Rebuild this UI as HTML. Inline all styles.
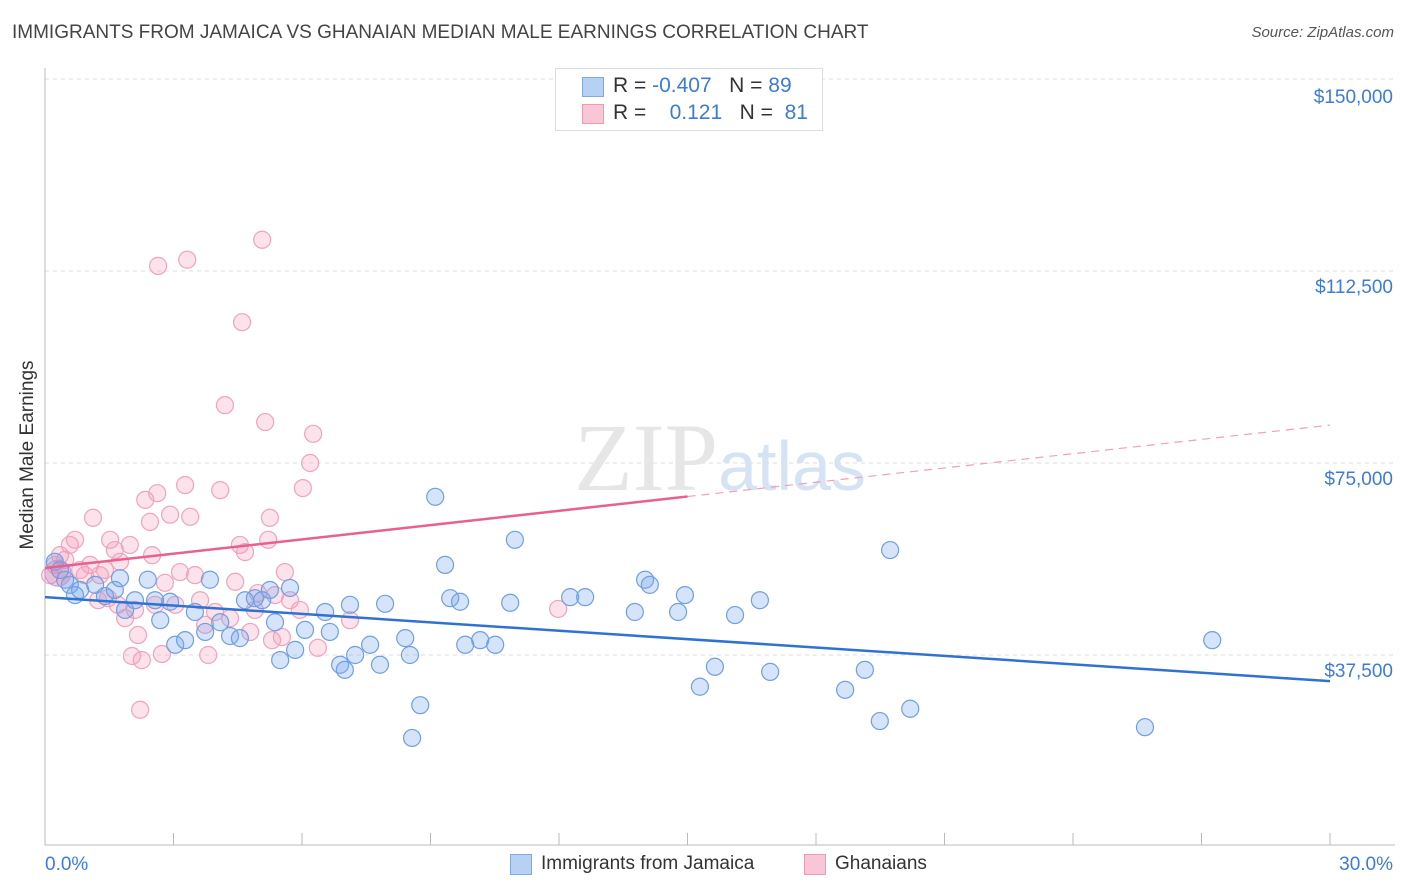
<!DOCTYPE html>
<html><head><meta charset="utf-8">
<style>
body{margin:0;background:#fff;font-family:"Liberation Sans",sans-serif;}
#wrap{position:relative;width:1406px;height:892px;overflow:hidden;}
.t{position:absolute;white-space:nowrap;}
</style></head>
<body>
<div id="wrap">
<div class="t" style="left:12px;top:22px;font-size:19px;color:#444;">IMMIGRANTS FROM JAMAICA VS GHANAIAN MEDIAN MALE EARNINGS CORRELATION CHART</div>
<div class="t" style="right:12px;top:24px;font-size:15px;color:#555;font-style:italic;">Source: ZipAtlas.com</div>
<div class="t" style="left:28px;top:455px;font-size:19px;color:#333;transform:translate(-50%,-50%) rotate(-90deg);">Median Male Earnings</div>
<svg id="chart" width="1406" height="892" style="position:absolute;left:0;top:0;"></svg>
<div style="position:absolute;left:555px;top:68px;width:266px;height:61px;border:1px solid #ddd;background:#fff;font-size:21px;">
  <div style="position:absolute;left:26px;top:8px;width:20px;height:18px;background:#b7d1f4;border:1px solid #7ea8e6;"></div>
  <div class="t" style="left:57px;top:5px;color:#333;">R = <span style="color:#3d7bd8">-0.407</span>&nbsp;&nbsp;&nbsp;N = <span style="color:#3d7bd8">89</span></div>
  <div style="position:absolute;left:26px;top:35px;width:20px;height:18px;background:#f9c6d6;border:1px solid #ee9ab5;"></div>
  <div class="t" style="left:57px;top:32px;color:#333;">R = &nbsp;&nbsp;&nbsp;<span style="color:#3d7bd8">0.121</span>&nbsp;&nbsp;&nbsp;N = &nbsp;<span style="color:#3d7bd8">81</span></div>
</div>
<div style="position:absolute;left:510px;top:854px;width:20px;height:19px;background:#b7d1f4;border:1px solid #7ea8e6;"></div>
<div class="t" style="left:541px;top:853px;font-size:19px;color:#333;">Immigrants from Jamaica</div>
<div style="position:absolute;left:804px;top:854px;width:20px;height:19px;background:#f9c6d6;border:1px solid #ee9ab5;"></div>
<div class="t" style="left:835px;top:853px;font-size:19px;color:#333;">Ghanaians</div>
</div>
<script>
const yTicks=[37500,75000,112500,150000];
const yTickLabels=["$37,500","$75,000","$112,500","$150,000"];
const xTickLabels=["0.0%","30.0%"];
const jamX=[0.23,0.35,0.47,0.58,0.70,0.82,1.17,1.40,1.63,1.75,1.87,2.10,2.40,2.57,2.69,2.92,3.04,3.27,3.50,3.74,3.85,4.09,4.32,4.55,4.67,4.90,5.07,5.25,5.37,5.49,5.72,5.84,6.07,6.54,6.65,6.89,7.00,7.12,7.24,7.59,7.82,7.94,8.41,8.52,8.76,8.57,9.11,9.34,9.46,9.69,9.81,10.16,10.51,10.86,10.97,12.26,12.61,13.77,14.01,14.12,14.78,14.94,15.29,15.64,16.11,16.69,16.93,18.68,19.14,19.49,19.73,20.20,25.68,27.25];
const jamY=[55.7,54.1,52.2,51.2,49.2,50.2,51.2,49.0,50.2,52.5,46.3,48.2,52.2,48.2,44.3,47.9,39.5,40.4,45.9,42.0,52.2,43.9,41.2,40.8,48.2,48.6,48.2,50.2,43.9,36.5,50.6,38.5,42.4,45.9,42.0,35.6,34.6,47.3,37.5,39.5,35.6,47.5,40.8,37.5,27.7,21.3,68.4,55.1,48.6,47.9,39.5,40.4,39.5,47.7,60.0,48.8,48.8,45.9,52.2,51.2,45.9,49.2,31.3,35.2,45.3,48.2,34.2,30.7,34.6,24.6,58.0,27.0,23.4,40.4];
const ghaX=[0.12,0.23,0.35,0.47,0.58,0.70,0.82,0.93,1.05,1.12,1.24,1.28,1.40,1.47,1.52,1.63,1.70,1.75,1.87,1.98,2.03,2.10,2.17,2.22,2.26,2.34,2.45,2.50,2.57,2.62,2.64,2.73,2.80,2.92,3.04,3.15,3.27,3.32,3.39,3.50,3.62,3.74,3.81,3.97,4.09,4.20,4.32,4.44,4.55,4.60,4.67,4.79,4.90,4.97,5.07,5.14,5.21,5.25,5.30,5.37,5.53,5.60,5.72,5.95,6.02,6.19,6.26,6.37,7.12,11.98];
const ghaY=[53.1,55.1,57.0,56.1,59.0,60.0,54.1,53.1,55.1,64.3,48.2,53.1,54.1,48.6,60.0,58.0,47.3,55.7,44.7,59.0,37.3,46.3,41.4,26.8,36.5,67.8,63.5,57.0,47.3,69.1,113.5,37.7,51.6,64.9,47.3,53.7,70.7,114.7,64.5,53.1,48.2,43.4,37.5,45.9,69.7,86.3,44.7,51.8,59.0,102.5,57.6,42.0,46.3,49.6,118.6,83.0,60.0,64.3,40.4,49.2,41.0,53.7,48.2,46.3,70.1,75.0,80.7,38.9,44.3,46.5];
const jamTrend=[48.8,32.4];
const ghaTrend=[54.5,82.4];

const NS="http://www.w3.org/2000/svg";
const svg=document.getElementById('chart');
const xs=v=>45+v/30*1285;
const ys=v=>655-(v-37500)/37500*192;
function mk(tag,attrs){const e=document.createElementNS(NS,tag);for(const k in attrs)e.setAttribute(k,attrs[k]);svg.appendChild(e);return e;}

let g=mk('line',{x1:45,x2:1395,y1:79,y2:79,stroke:'#ddd','stroke-dasharray':'4,4'});


yTicks.forEach((v,i)=>{
  const l=mk('line',{x1:45,x2:1395,y1:ys(v),y2:ys(v),stroke:'#ddd','stroke-dasharray':'4,4'});
  
  
  const t=mk('text',{x:1393,y:ys(v)+ (v==150000?24:22),'text-anchor':'end','font-size':19,fill:'#3d7bd8','font-family':'Liberation Sans, sans-serif'});
  t.textContent=yTickLabels[i];
  
  
});
let ax=mk('line',{x1:45,x2:45,y1:68,y2:845,stroke:'#bbb'});


let bx=mk('line',{x1:45,x2:1395,y1:845,y2:845,stroke:'#bbb'});


for(let i=0;i<=10;i++){
  const tk=mk('line',{x1:xs(i*3),x2:xs(i*3),y1:833,y2:845,stroke:'#bbb'});
  
  
}
[[0,'start',45],[30,'end',1393]].forEach((p,i)=>{
  const t=mk('text',{x:p[2],y:870,'text-anchor':p[1],'font-size':19,fill:'#3d7bd8','font-family':'Liberation Sans, sans-serif'});
  t.textContent=xTickLabels[i];
  
  
});
let wm=mk('text',{x:720,y:490,'text-anchor':'middle','font-size':96,fill:'#e6e6e6','font-family':'Liberation Serif, serif'});
wm.innerHTML='ZIP<tspan fill="#d5e3f5" font-family="Liberation Sans, sans-serif" font-size="70">atlas</tspan>';



ghaX.forEach((x,i)=>{
  const c=mk('circle',{cx:xs(x),cy:ys(ghaY[i]*1000),r:8.5,fill:'rgba(244,160,190,0.3)',stroke:'#f0a3bd','stroke-width':1.2});
  
  
});
jamX.forEach((x,i)=>{
  const c=mk('circle',{cx:xs(x),cy:ys(jamY[i]*1000),r:8.5,fill:'rgba(120,165,235,0.3)',stroke:'#6f9fe2','stroke-width':1.2});
  
  
});
let big=mk('circle',{cx:xs(0.3),cy:ys(53500),r:13,fill:'rgba(200,130,180,0.35)',stroke:'#b99ad8'});



const gm=(ghaTrend[0]+ghaTrend[1])/2;
let gl=mk('line',{x1:xs(0),y1:ys(ghaTrend[0]*1000),x2:xs(15),y2:ys(gm*1000),stroke:'#e8608f','stroke-width':2.5});


let gd=mk('line',{x1:xs(15),y1:ys(gm*1000),x2:xs(30),y2:ys(ghaTrend[1]*1000),stroke:'#eea0b8','stroke-width':1.2,'stroke-dasharray':'8,6'});


let jl=mk('line',{x1:xs(0),y1:ys(jamTrend[0]*1000),x2:xs(30),y2:ys(jamTrend[1]*1000),stroke:'#2f72d4','stroke-width':2.5});


</script>
</body></html>
